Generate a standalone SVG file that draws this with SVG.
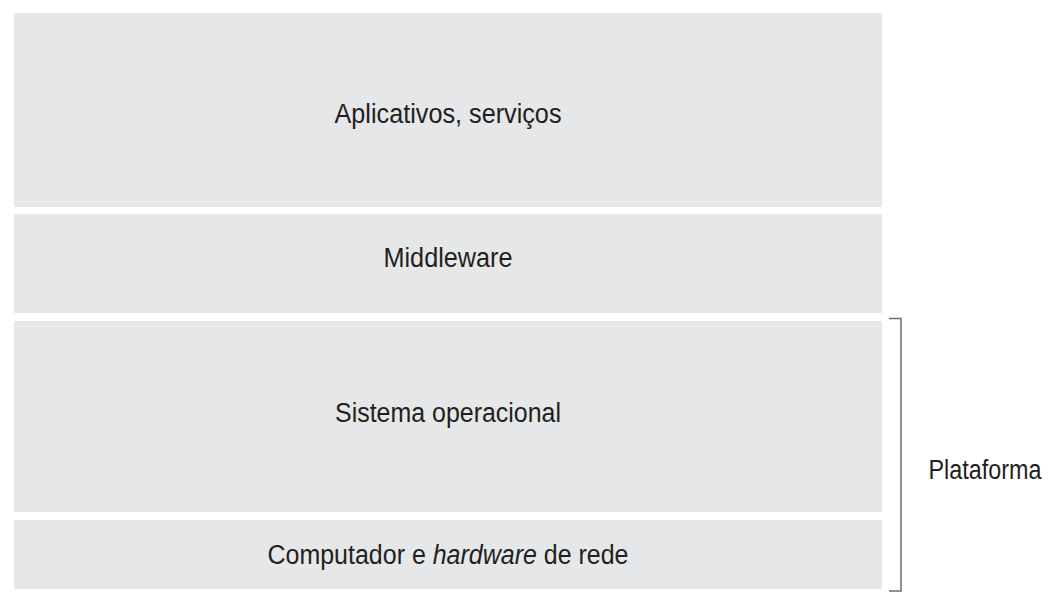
<svg xmlns="http://www.w3.org/2000/svg" width="1057" height="603" viewBox="0 0 1057 603">
<style>
.box{fill:#e6e7e8}
.t{font-family:"Liberation Sans Narrow","Liberation Sans",Arial,sans-serif;font-size:27px;fill:#231f20;text-anchor:middle}
.br{fill:none;stroke:#6d6e70;stroke-width:1.5}
</style>
<rect width="1057" height="603" fill="#ffffff"/>
<g id="aplicativos"><rect class="box" x="14" y="13" width="868" height="194"/><text class="t" x="448" y="123" textLength="227" lengthAdjust="spacingAndGlyphs">Aplicativos, serviços</text></g>
<g id="middleware"><rect class="box" x="14" y="214" width="868" height="99"/><text class="t" x="448" y="267" textLength="129" lengthAdjust="spacingAndGlyphs">Middleware</text></g>
<g id="sistema"><rect class="box" x="14" y="321" width="868" height="191"/><text class="t" x="448" y="422" textLength="226" lengthAdjust="spacingAndGlyphs">Sistema operacional</text></g>
<g id="computador"><rect class="box" x="14" y="520" width="868" height="69"/><text class="t" x="448" y="564" textLength="361" lengthAdjust="spacingAndGlyphs">Computador e <tspan font-style="italic">hardware</tspan> de rede</text></g>
<g id="connectors"><path class="br" d="M889 318.5H901V591H889"/></g>
<g id="plataforma"><text class="t" x="985" y="479" textLength="113" lengthAdjust="spacingAndGlyphs">Plataforma</text></g>
</svg>
